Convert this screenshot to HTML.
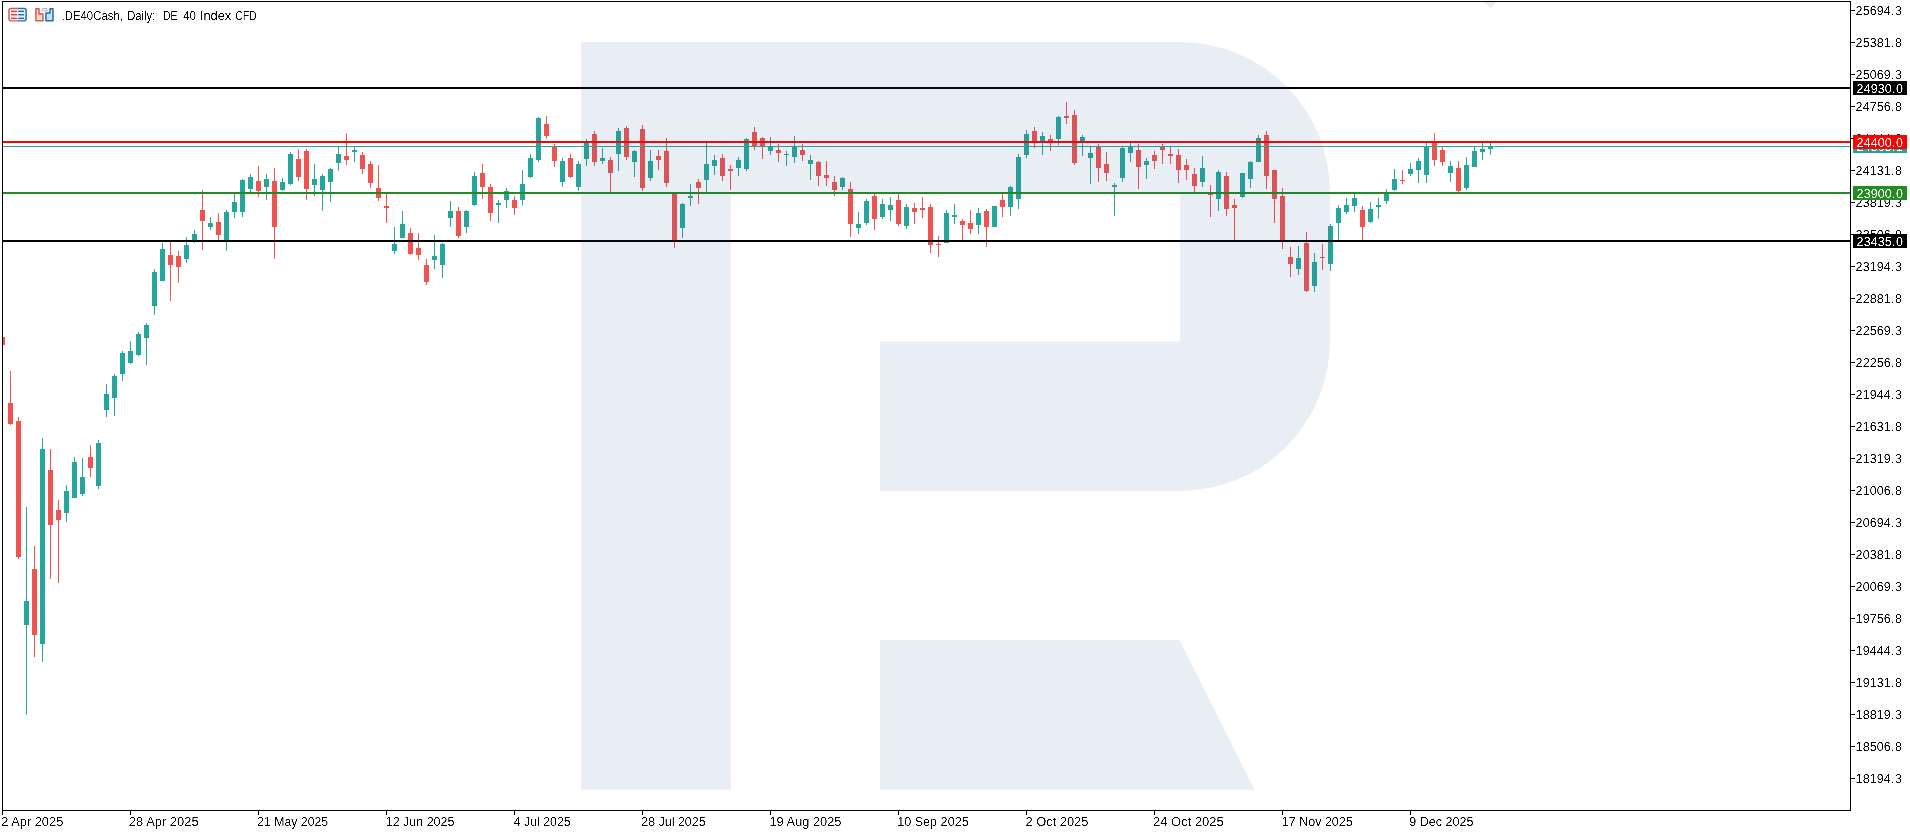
<!DOCTYPE html>
<html lang="en"><head><meta charset="utf-8"><title>.DE40Cash, Daily: DE 40 Index CFD</title>
<style>html,body{margin:0;padding:0;background:#fff;overflow:hidden}svg{display:block}text{filter:url(#px);font-family:"Liberation Sans",Arial,sans-serif;font-size:12.5px;fill:#000}.w{fill:#fff}</style>
</head><body>
<svg width="1910" height="834" viewBox="0 0 1910 834">
<rect x="0" y="0" width="1910" height="834" fill="#fff"/>
<defs><clipPath id="cc"><rect x="3" y="2" width="1847" height="808"/></clipPath><filter id="px" x="-10%" y="-30%" width="120%" height="160%" color-interpolation-filters="sRGB"><feComponentTransfer><feFuncA type="linear" slope="3" intercept="-1.1"/></feComponentTransfer></filter></defs>
<g shape-rendering="crispEdges" clip-path="url(#cc)">
<rect x="0" y="337" width="5" height="8" fill="#ef5350"/>
<rect x="10" y="371" width="1" height="54" fill="#ef5350"/>
<rect x="8" y="403" width="5" height="21" fill="#ef5350"/>
<rect x="18" y="417" width="1" height="142" fill="#ef5350"/>
<rect x="16" y="421" width="5" height="136" fill="#ef5350"/>
<rect x="26" y="507" width="1" height="208" fill="#26a69a"/>
<rect x="24" y="601" width="5" height="24" fill="#26a69a"/>
<rect x="34" y="546" width="1" height="111" fill="#ef5350"/>
<rect x="32" y="569" width="5" height="66" fill="#ef5350"/>
<rect x="42" y="438" width="1" height="224" fill="#26a69a"/>
<rect x="40" y="449" width="5" height="195" fill="#26a69a"/>
<rect x="50" y="449" width="1" height="130" fill="#ef5350"/>
<rect x="48" y="470" width="5" height="55" fill="#ef5350"/>
<rect x="58" y="500" width="1" height="83" fill="#ef5350"/>
<rect x="56" y="510" width="5" height="10" fill="#ef5350"/>
<rect x="66" y="485" width="1" height="37" fill="#26a69a"/>
<rect x="64" y="491" width="5" height="22" fill="#26a69a"/>
<rect x="74" y="457" width="1" height="41" fill="#26a69a"/>
<rect x="72" y="462" width="5" height="36" fill="#26a69a"/>
<rect x="82" y="458" width="1" height="38" fill="#26a69a"/>
<rect x="80" y="477" width="5" height="17" fill="#26a69a"/>
<rect x="90" y="445" width="1" height="32" fill="#ef5350"/>
<rect x="88" y="457" width="5" height="11" fill="#ef5350"/>
<rect x="98" y="440" width="1" height="49" fill="#26a69a"/>
<rect x="96" y="443" width="5" height="43" fill="#26a69a"/>
<rect x="106" y="384" width="1" height="33" fill="#26a69a"/>
<rect x="104" y="394" width="5" height="16" fill="#26a69a"/>
<rect x="114" y="374" width="1" height="42" fill="#26a69a"/>
<rect x="112" y="376" width="5" height="22" fill="#26a69a"/>
<rect x="122" y="351" width="1" height="30" fill="#26a69a"/>
<rect x="120" y="353" width="5" height="21" fill="#26a69a"/>
<rect x="130" y="341" width="1" height="23" fill="#26a69a"/>
<rect x="128" y="351" width="5" height="12" fill="#26a69a"/>
<rect x="138" y="332" width="1" height="24" fill="#26a69a"/>
<rect x="136" y="334" width="5" height="21" fill="#26a69a"/>
<rect x="146" y="323" width="1" height="42" fill="#26a69a"/>
<rect x="144" y="325" width="5" height="13" fill="#26a69a"/>
<rect x="154" y="269" width="1" height="46" fill="#26a69a"/>
<rect x="152" y="272" width="5" height="34" fill="#26a69a"/>
<rect x="162" y="243" width="1" height="38" fill="#26a69a"/>
<rect x="160" y="249" width="5" height="32" fill="#26a69a"/>
<rect x="170" y="240" width="1" height="61" fill="#ef5350"/>
<rect x="168" y="255" width="5" height="10" fill="#ef5350"/>
<rect x="178" y="251" width="1" height="32" fill="#ef5350"/>
<rect x="176" y="256" width="5" height="11" fill="#ef5350"/>
<rect x="186" y="237" width="1" height="26" fill="#26a69a"/>
<rect x="184" y="245" width="5" height="14" fill="#26a69a"/>
<rect x="194" y="230" width="1" height="13" fill="#26a69a"/>
<rect x="192" y="234" width="5" height="6" fill="#26a69a"/>
<rect x="202" y="190" width="1" height="60" fill="#ef5350"/>
<rect x="200" y="210" width="5" height="11" fill="#ef5350"/>
<rect x="210" y="217" width="1" height="13" fill="#26a69a"/>
<rect x="208" y="223" width="5" height="4" fill="#26a69a"/>
<rect x="218" y="213" width="1" height="27" fill="#ef5350"/>
<rect x="216" y="222" width="5" height="13" fill="#ef5350"/>
<rect x="226" y="210" width="1" height="41" fill="#26a69a"/>
<rect x="224" y="212" width="5" height="28" fill="#26a69a"/>
<rect x="234" y="192" width="1" height="26" fill="#26a69a"/>
<rect x="232" y="202" width="5" height="10" fill="#26a69a"/>
<rect x="242" y="179" width="1" height="38" fill="#26a69a"/>
<rect x="240" y="180" width="5" height="32" fill="#26a69a"/>
<rect x="250" y="174" width="1" height="18" fill="#26a69a"/>
<rect x="248" y="177" width="5" height="12" fill="#26a69a"/>
<rect x="258" y="166" width="1" height="31" fill="#ef5350"/>
<rect x="256" y="181" width="5" height="10" fill="#ef5350"/>
<rect x="266" y="174" width="1" height="26" fill="#26a69a"/>
<rect x="264" y="179" width="5" height="8" fill="#26a69a"/>
<rect x="274" y="168" width="1" height="91" fill="#ef5350"/>
<rect x="272" y="181" width="5" height="46" fill="#ef5350"/>
<rect x="282" y="178" width="1" height="13" fill="#26a69a"/>
<rect x="280" y="182" width="5" height="8" fill="#26a69a"/>
<rect x="290" y="152" width="1" height="33" fill="#26a69a"/>
<rect x="288" y="154" width="5" height="30" fill="#26a69a"/>
<rect x="298" y="149" width="1" height="32" fill="#ef5350"/>
<rect x="296" y="159" width="5" height="18" fill="#ef5350"/>
<rect x="306" y="149" width="1" height="51" fill="#ef5350"/>
<rect x="304" y="151" width="5" height="38" fill="#ef5350"/>
<rect x="314" y="164" width="1" height="32" fill="#26a69a"/>
<rect x="312" y="179" width="5" height="6" fill="#26a69a"/>
<rect x="322" y="174" width="1" height="37" fill="#26a69a"/>
<rect x="320" y="176" width="5" height="14" fill="#26a69a"/>
<rect x="330" y="168" width="1" height="34" fill="#26a69a"/>
<rect x="328" y="169" width="5" height="13" fill="#26a69a"/>
<rect x="338" y="146" width="1" height="25" fill="#26a69a"/>
<rect x="336" y="154" width="5" height="9" fill="#26a69a"/>
<rect x="346" y="133" width="1" height="32" fill="#ef5350"/>
<rect x="344" y="156" width="5" height="4" fill="#ef5350"/>
<rect x="354" y="146" width="1" height="16" fill="#26a69a"/>
<rect x="352" y="150" width="5" height="2" fill="#26a69a"/>
<rect x="362" y="152" width="1" height="22" fill="#ef5350"/>
<rect x="360" y="155" width="5" height="14" fill="#ef5350"/>
<rect x="370" y="161" width="1" height="27" fill="#ef5350"/>
<rect x="368" y="164" width="5" height="19" fill="#ef5350"/>
<rect x="378" y="165" width="1" height="36" fill="#ef5350"/>
<rect x="376" y="188" width="5" height="10" fill="#ef5350"/>
<rect x="386" y="193" width="1" height="30" fill="#ef5350"/>
<rect x="384" y="206" width="5" height="2" fill="#ef5350"/>
<rect x="394" y="227" width="1" height="27" fill="#26a69a"/>
<rect x="392" y="244" width="5" height="7" fill="#26a69a"/>
<rect x="402" y="211" width="1" height="27" fill="#26a69a"/>
<rect x="400" y="224" width="5" height="14" fill="#26a69a"/>
<rect x="410" y="228" width="1" height="27" fill="#ef5350"/>
<rect x="408" y="233" width="5" height="21" fill="#ef5350"/>
<rect x="418" y="233" width="1" height="27" fill="#ef5350"/>
<rect x="416" y="248" width="5" height="7" fill="#ef5350"/>
<rect x="426" y="259" width="1" height="26" fill="#ef5350"/>
<rect x="424" y="265" width="5" height="17" fill="#ef5350"/>
<rect x="434" y="235" width="1" height="34" fill="#26a69a"/>
<rect x="432" y="256" width="5" height="4" fill="#26a69a"/>
<rect x="442" y="243" width="1" height="35" fill="#26a69a"/>
<rect x="440" y="244" width="5" height="21" fill="#26a69a"/>
<rect x="450" y="201" width="1" height="26" fill="#26a69a"/>
<rect x="448" y="211" width="5" height="7" fill="#26a69a"/>
<rect x="458" y="207" width="1" height="31" fill="#ef5350"/>
<rect x="456" y="211" width="5" height="25" fill="#ef5350"/>
<rect x="466" y="210" width="1" height="23" fill="#26a69a"/>
<rect x="464" y="211" width="5" height="16" fill="#26a69a"/>
<rect x="474" y="172" width="1" height="34" fill="#26a69a"/>
<rect x="472" y="176" width="5" height="29" fill="#26a69a"/>
<rect x="482" y="164" width="1" height="35" fill="#ef5350"/>
<rect x="480" y="173" width="5" height="14" fill="#ef5350"/>
<rect x="490" y="184" width="1" height="37" fill="#ef5350"/>
<rect x="488" y="187" width="5" height="26" fill="#ef5350"/>
<rect x="498" y="200" width="1" height="23" fill="#26a69a"/>
<rect x="496" y="203" width="5" height="2" fill="#26a69a"/>
<rect x="506" y="188" width="1" height="20" fill="#26a69a"/>
<rect x="504" y="191" width="5" height="9" fill="#26a69a"/>
<rect x="514" y="196" width="1" height="19" fill="#ef5350"/>
<rect x="512" y="200" width="5" height="8" fill="#ef5350"/>
<rect x="522" y="170" width="1" height="35" fill="#26a69a"/>
<rect x="520" y="184" width="5" height="16" fill="#26a69a"/>
<rect x="530" y="154" width="1" height="24" fill="#26a69a"/>
<rect x="528" y="158" width="5" height="19" fill="#26a69a"/>
<rect x="538" y="117" width="1" height="45" fill="#26a69a"/>
<rect x="536" y="118" width="5" height="42" fill="#26a69a"/>
<rect x="546" y="116" width="1" height="23" fill="#ef5350"/>
<rect x="544" y="124" width="5" height="12" fill="#ef5350"/>
<rect x="554" y="144" width="1" height="23" fill="#ef5350"/>
<rect x="552" y="146" width="5" height="15" fill="#ef5350"/>
<rect x="562" y="158" width="1" height="29" fill="#26a69a"/>
<rect x="560" y="161" width="5" height="21" fill="#26a69a"/>
<rect x="570" y="154" width="1" height="24" fill="#ef5350"/>
<rect x="568" y="158" width="5" height="19" fill="#ef5350"/>
<rect x="578" y="161" width="1" height="30" fill="#26a69a"/>
<rect x="576" y="164" width="5" height="23" fill="#26a69a"/>
<rect x="586" y="139" width="1" height="27" fill="#26a69a"/>
<rect x="584" y="142" width="5" height="17" fill="#26a69a"/>
<rect x="594" y="131" width="1" height="35" fill="#ef5350"/>
<rect x="592" y="134" width="5" height="28" fill="#ef5350"/>
<rect x="602" y="148" width="1" height="16" fill="#26a69a"/>
<rect x="600" y="158" width="5" height="3" fill="#26a69a"/>
<rect x="610" y="157" width="1" height="35" fill="#ef5350"/>
<rect x="608" y="160" width="5" height="13" fill="#ef5350"/>
<rect x="618" y="128" width="1" height="43" fill="#26a69a"/>
<rect x="616" y="131" width="5" height="23" fill="#26a69a"/>
<rect x="626" y="126" width="1" height="34" fill="#ef5350"/>
<rect x="624" y="128" width="5" height="29" fill="#ef5350"/>
<rect x="634" y="150" width="1" height="27" fill="#26a69a"/>
<rect x="632" y="151" width="5" height="11" fill="#26a69a"/>
<rect x="642" y="125" width="1" height="66" fill="#ef5350"/>
<rect x="640" y="129" width="5" height="59" fill="#ef5350"/>
<rect x="650" y="150" width="1" height="31" fill="#26a69a"/>
<rect x="648" y="161" width="5" height="17" fill="#26a69a"/>
<rect x="658" y="150" width="1" height="20" fill="#ef5350"/>
<rect x="656" y="156" width="5" height="4" fill="#ef5350"/>
<rect x="666" y="138" width="1" height="49" fill="#ef5350"/>
<rect x="664" y="151" width="5" height="32" fill="#ef5350"/>
<rect x="674" y="192" width="1" height="56" fill="#ef5350"/>
<rect x="672" y="192" width="5" height="49" fill="#ef5350"/>
<rect x="682" y="203" width="1" height="35" fill="#26a69a"/>
<rect x="680" y="204" width="5" height="24" fill="#26a69a"/>
<rect x="690" y="184" width="1" height="22" fill="#26a69a"/>
<rect x="688" y="196" width="5" height="2" fill="#26a69a"/>
<rect x="698" y="179" width="1" height="25" fill="#ef5350"/>
<rect x="696" y="182" width="5" height="6" fill="#ef5350"/>
<rect x="706" y="142" width="1" height="50" fill="#26a69a"/>
<rect x="704" y="164" width="5" height="16" fill="#26a69a"/>
<rect x="714" y="155" width="1" height="20" fill="#26a69a"/>
<rect x="712" y="160" width="5" height="6" fill="#26a69a"/>
<rect x="722" y="154" width="1" height="27" fill="#ef5350"/>
<rect x="720" y="158" width="5" height="18" fill="#ef5350"/>
<rect x="730" y="165" width="1" height="25" fill="#ef5350"/>
<rect x="728" y="169" width="5" height="2" fill="#ef5350"/>
<rect x="738" y="157" width="1" height="19" fill="#26a69a"/>
<rect x="736" y="160" width="5" height="8" fill="#26a69a"/>
<rect x="746" y="138" width="1" height="33" fill="#26a69a"/>
<rect x="744" y="139" width="5" height="30" fill="#26a69a"/>
<rect x="754" y="127" width="1" height="23" fill="#ef5350"/>
<rect x="752" y="132" width="5" height="14" fill="#ef5350"/>
<rect x="762" y="137" width="1" height="22" fill="#ef5350"/>
<rect x="760" y="138" width="5" height="8" fill="#ef5350"/>
<rect x="770" y="137" width="1" height="18" fill="#26a69a"/>
<rect x="768" y="147" width="5" height="4" fill="#26a69a"/>
<rect x="778" y="144" width="1" height="18" fill="#ef5350"/>
<rect x="776" y="150" width="5" height="3" fill="#ef5350"/>
<rect x="786" y="151" width="1" height="15" fill="#26a69a"/>
<rect x="784" y="154" width="5" height="1" fill="#26a69a"/>
<rect x="794" y="136" width="1" height="27" fill="#26a69a"/>
<rect x="792" y="147" width="5" height="10" fill="#26a69a"/>
<rect x="802" y="144" width="1" height="17" fill="#ef5350"/>
<rect x="800" y="150" width="5" height="5" fill="#ef5350"/>
<rect x="810" y="155" width="1" height="25" fill="#26a69a"/>
<rect x="808" y="160" width="5" height="4" fill="#26a69a"/>
<rect x="818" y="161" width="1" height="25" fill="#ef5350"/>
<rect x="816" y="162" width="5" height="14" fill="#ef5350"/>
<rect x="826" y="161" width="1" height="25" fill="#ef5350"/>
<rect x="824" y="175" width="5" height="3" fill="#ef5350"/>
<rect x="834" y="176" width="1" height="20" fill="#ef5350"/>
<rect x="832" y="182" width="5" height="8" fill="#ef5350"/>
<rect x="842" y="177" width="1" height="13" fill="#26a69a"/>
<rect x="840" y="178" width="5" height="9" fill="#26a69a"/>
<rect x="850" y="182" width="1" height="55" fill="#ef5350"/>
<rect x="848" y="189" width="5" height="35" fill="#ef5350"/>
<rect x="858" y="212" width="1" height="22" fill="#26a69a"/>
<rect x="856" y="224" width="5" height="4" fill="#26a69a"/>
<rect x="866" y="199" width="1" height="26" fill="#26a69a"/>
<rect x="864" y="201" width="5" height="22" fill="#26a69a"/>
<rect x="874" y="194" width="1" height="36" fill="#ef5350"/>
<rect x="872" y="196" width="5" height="23" fill="#ef5350"/>
<rect x="882" y="199" width="1" height="20" fill="#26a69a"/>
<rect x="880" y="204" width="5" height="13" fill="#26a69a"/>
<rect x="890" y="197" width="1" height="24" fill="#26a69a"/>
<rect x="888" y="205" width="5" height="5" fill="#26a69a"/>
<rect x="898" y="194" width="1" height="32" fill="#ef5350"/>
<rect x="896" y="200" width="5" height="24" fill="#ef5350"/>
<rect x="906" y="204" width="1" height="25" fill="#26a69a"/>
<rect x="904" y="207" width="5" height="19" fill="#26a69a"/>
<rect x="914" y="203" width="1" height="21" fill="#ef5350"/>
<rect x="912" y="208" width="5" height="4" fill="#ef5350"/>
<rect x="922" y="197" width="1" height="21" fill="#ef5350"/>
<rect x="920" y="208" width="5" height="2" fill="#ef5350"/>
<rect x="930" y="204" width="1" height="49" fill="#ef5350"/>
<rect x="928" y="207" width="5" height="38" fill="#ef5350"/>
<rect x="938" y="236" width="1" height="21" fill="#ef5350"/>
<rect x="936" y="244" width="5" height="1" fill="#ef5350"/>
<rect x="946" y="210" width="1" height="33" fill="#26a69a"/>
<rect x="944" y="213" width="5" height="30" fill="#26a69a"/>
<rect x="954" y="204" width="1" height="20" fill="#26a69a"/>
<rect x="952" y="215" width="5" height="2" fill="#26a69a"/>
<rect x="962" y="219" width="1" height="21" fill="#ef5350"/>
<rect x="960" y="221" width="5" height="4" fill="#ef5350"/>
<rect x="970" y="210" width="1" height="24" fill="#ef5350"/>
<rect x="968" y="223" width="5" height="6" fill="#ef5350"/>
<rect x="978" y="208" width="1" height="26" fill="#26a69a"/>
<rect x="976" y="213" width="5" height="12" fill="#26a69a"/>
<rect x="986" y="209" width="1" height="38" fill="#ef5350"/>
<rect x="984" y="211" width="5" height="16" fill="#ef5350"/>
<rect x="994" y="206" width="1" height="21" fill="#26a69a"/>
<rect x="992" y="206" width="5" height="21" fill="#26a69a"/>
<rect x="1002" y="194" width="1" height="23" fill="#ef5350"/>
<rect x="1000" y="200" width="5" height="7" fill="#ef5350"/>
<rect x="1010" y="186" width="1" height="30" fill="#26a69a"/>
<rect x="1008" y="187" width="5" height="20" fill="#26a69a"/>
<rect x="1018" y="154" width="1" height="55" fill="#26a69a"/>
<rect x="1016" y="157" width="5" height="42" fill="#26a69a"/>
<rect x="1026" y="130" width="1" height="28" fill="#26a69a"/>
<rect x="1024" y="134" width="5" height="21" fill="#26a69a"/>
<rect x="1034" y="127" width="1" height="21" fill="#ef5350"/>
<rect x="1032" y="131" width="5" height="11" fill="#ef5350"/>
<rect x="1042" y="132" width="1" height="23" fill="#26a69a"/>
<rect x="1040" y="136" width="5" height="6" fill="#26a69a"/>
<rect x="1050" y="135" width="1" height="16" fill="#ef5350"/>
<rect x="1048" y="139" width="5" height="4" fill="#ef5350"/>
<rect x="1058" y="116" width="1" height="29" fill="#26a69a"/>
<rect x="1056" y="117" width="5" height="22" fill="#26a69a"/>
<rect x="1066" y="102" width="1" height="22" fill="#ef5350"/>
<rect x="1064" y="116" width="5" height="2" fill="#ef5350"/>
<rect x="1074" y="110" width="1" height="55" fill="#ef5350"/>
<rect x="1072" y="115" width="5" height="48" fill="#ef5350"/>
<rect x="1082" y="135" width="1" height="21" fill="#26a69a"/>
<rect x="1080" y="137" width="5" height="5" fill="#26a69a"/>
<rect x="1090" y="146" width="1" height="38" fill="#26a69a"/>
<rect x="1088" y="153" width="5" height="5" fill="#26a69a"/>
<rect x="1098" y="144" width="1" height="38" fill="#ef5350"/>
<rect x="1096" y="146" width="5" height="22" fill="#ef5350"/>
<rect x="1106" y="152" width="1" height="29" fill="#ef5350"/>
<rect x="1104" y="164" width="5" height="9" fill="#ef5350"/>
<rect x="1114" y="183" width="1" height="33" fill="#26a69a"/>
<rect x="1112" y="185" width="5" height="2" fill="#26a69a"/>
<rect x="1122" y="147" width="1" height="35" fill="#26a69a"/>
<rect x="1120" y="148" width="5" height="30" fill="#26a69a"/>
<rect x="1130" y="142" width="1" height="20" fill="#26a69a"/>
<rect x="1128" y="147" width="5" height="6" fill="#26a69a"/>
<rect x="1138" y="144" width="1" height="45" fill="#ef5350"/>
<rect x="1136" y="150" width="5" height="17" fill="#ef5350"/>
<rect x="1146" y="158" width="1" height="21" fill="#26a69a"/>
<rect x="1144" y="161" width="5" height="4" fill="#26a69a"/>
<rect x="1154" y="151" width="1" height="18" fill="#ef5350"/>
<rect x="1152" y="155" width="5" height="6" fill="#ef5350"/>
<rect x="1162" y="144" width="1" height="20" fill="#ef5350"/>
<rect x="1160" y="147" width="5" height="3" fill="#ef5350"/>
<rect x="1170" y="146" width="1" height="18" fill="#ef5350"/>
<rect x="1168" y="154" width="5" height="2" fill="#ef5350"/>
<rect x="1178" y="149" width="1" height="34" fill="#ef5350"/>
<rect x="1176" y="155" width="5" height="15" fill="#ef5350"/>
<rect x="1186" y="159" width="1" height="21" fill="#ef5350"/>
<rect x="1184" y="165" width="5" height="5" fill="#ef5350"/>
<rect x="1194" y="168" width="1" height="24" fill="#ef5350"/>
<rect x="1192" y="174" width="5" height="12" fill="#ef5350"/>
<rect x="1202" y="156" width="1" height="31" fill="#26a69a"/>
<rect x="1200" y="168" width="5" height="14" fill="#26a69a"/>
<rect x="1210" y="185" width="1" height="32" fill="#ef5350"/>
<rect x="1208" y="193" width="5" height="2" fill="#ef5350"/>
<rect x="1218" y="170" width="1" height="41" fill="#26a69a"/>
<rect x="1216" y="172" width="5" height="27" fill="#26a69a"/>
<rect x="1226" y="172" width="1" height="44" fill="#ef5350"/>
<rect x="1224" y="176" width="5" height="33" fill="#ef5350"/>
<rect x="1234" y="199" width="1" height="41" fill="#ef5350"/>
<rect x="1232" y="205" width="5" height="3" fill="#ef5350"/>
<rect x="1242" y="173" width="1" height="25" fill="#26a69a"/>
<rect x="1240" y="173" width="5" height="24" fill="#26a69a"/>
<rect x="1250" y="161" width="1" height="27" fill="#26a69a"/>
<rect x="1248" y="162" width="5" height="17" fill="#26a69a"/>
<rect x="1258" y="135" width="1" height="27" fill="#26a69a"/>
<rect x="1256" y="138" width="5" height="24" fill="#26a69a"/>
<rect x="1266" y="131" width="1" height="58" fill="#ef5350"/>
<rect x="1264" y="135" width="5" height="41" fill="#ef5350"/>
<rect x="1274" y="170" width="1" height="53" fill="#ef5350"/>
<rect x="1272" y="170" width="5" height="29" fill="#ef5350"/>
<rect x="1282" y="188" width="1" height="61" fill="#ef5350"/>
<rect x="1280" y="196" width="5" height="46" fill="#ef5350"/>
<rect x="1290" y="247" width="1" height="30" fill="#ef5350"/>
<rect x="1288" y="257" width="5" height="7" fill="#ef5350"/>
<rect x="1298" y="246" width="1" height="29" fill="#26a69a"/>
<rect x="1296" y="258" width="5" height="11" fill="#26a69a"/>
<rect x="1306" y="232" width="1" height="60" fill="#ef5350"/>
<rect x="1304" y="243" width="5" height="48" fill="#ef5350"/>
<rect x="1314" y="253" width="1" height="39" fill="#26a69a"/>
<rect x="1312" y="262" width="5" height="24" fill="#26a69a"/>
<rect x="1322" y="244" width="1" height="26" fill="#ef5350"/>
<rect x="1320" y="257" width="5" height="1" fill="#ef5350"/>
<rect x="1330" y="224" width="1" height="47" fill="#26a69a"/>
<rect x="1328" y="226" width="5" height="38" fill="#26a69a"/>
<rect x="1338" y="205" width="1" height="35" fill="#26a69a"/>
<rect x="1336" y="208" width="5" height="15" fill="#26a69a"/>
<rect x="1346" y="198" width="1" height="16" fill="#26a69a"/>
<rect x="1344" y="205" width="5" height="7" fill="#26a69a"/>
<rect x="1354" y="194" width="1" height="18" fill="#26a69a"/>
<rect x="1352" y="198" width="5" height="8" fill="#26a69a"/>
<rect x="1362" y="206" width="1" height="34" fill="#ef5350"/>
<rect x="1360" y="210" width="5" height="17" fill="#ef5350"/>
<rect x="1370" y="202" width="1" height="21" fill="#26a69a"/>
<rect x="1368" y="209" width="5" height="13" fill="#26a69a"/>
<rect x="1378" y="198" width="1" height="21" fill="#26a69a"/>
<rect x="1376" y="205" width="5" height="2" fill="#26a69a"/>
<rect x="1386" y="189" width="1" height="15" fill="#26a69a"/>
<rect x="1384" y="193" width="5" height="8" fill="#26a69a"/>
<rect x="1394" y="169" width="1" height="22" fill="#26a69a"/>
<rect x="1392" y="179" width="5" height="11" fill="#26a69a"/>
<rect x="1402" y="170" width="1" height="14" fill="#ef5350"/>
<rect x="1400" y="180" width="5" height="1" fill="#ef5350"/>
<rect x="1410" y="163" width="1" height="13" fill="#26a69a"/>
<rect x="1408" y="169" width="5" height="5" fill="#26a69a"/>
<rect x="1418" y="158" width="1" height="25" fill="#26a69a"/>
<rect x="1416" y="161" width="5" height="9" fill="#26a69a"/>
<rect x="1426" y="143" width="1" height="40" fill="#26a69a"/>
<rect x="1424" y="146" width="5" height="29" fill="#26a69a"/>
<rect x="1434" y="133" width="1" height="33" fill="#ef5350"/>
<rect x="1432" y="143" width="5" height="17" fill="#ef5350"/>
<rect x="1442" y="147" width="1" height="19" fill="#ef5350"/>
<rect x="1440" y="150" width="5" height="12" fill="#ef5350"/>
<rect x="1450" y="161" width="1" height="21" fill="#26a69a"/>
<rect x="1448" y="166" width="5" height="7" fill="#26a69a"/>
<rect x="1458" y="161" width="1" height="31" fill="#ef5350"/>
<rect x="1456" y="168" width="5" height="23" fill="#ef5350"/>
<rect x="1466" y="157" width="1" height="33" fill="#26a69a"/>
<rect x="1464" y="165" width="5" height="23" fill="#26a69a"/>
<rect x="1474" y="146" width="1" height="21" fill="#26a69a"/>
<rect x="1472" y="151" width="5" height="16" fill="#26a69a"/>
<rect x="1482" y="143" width="1" height="17" fill="#26a69a"/>
<rect x="1480" y="149" width="5" height="3" fill="#26a69a"/>
<rect x="1490" y="143" width="1" height="12" fill="#26a69a"/>
<rect x="1488" y="147" width="5" height="2" fill="#26a69a"/>
</g>
<polygon points="1484,2 1496,2 1490,8" fill="#efebf1" shape-rendering="crispEdges"/>
<g shape-rendering="crispEdges">
<rect x="3" y="146" width="1847" height="1" fill="#26a69a"/>
<rect x="3" y="87" width="1848" height="2" fill="#000"/>
<rect x="3" y="240" width="1848" height="2" fill="#000"/>
<rect x="3" y="192" width="1848" height="2" fill="#228b22"/>
<rect x="3" y="141" width="1848" height="2" fill="#ff0000"/>
</g>
<path fill="rgba(35,85,155,0.10)" fill-rule="evenodd" d="M581.2,42 H1180 A150,150 0 0 1 1330,192 V341 A150,150 0 0 1 1180,491 H880 V341.4 H1180 V192 H730.8 V789.8 H581.2 Z M880,640 H1179.5 L1254.5,789.8 H880 Z"/>
<g shape-rendering="crispEdges" fill="#000">
<rect x="2" y="1" width="1849" height="1"/>
<rect x="2" y="810" width="1849" height="1"/>
<rect x="2" y="1" width="1" height="814"/>
<rect x="1850" y="1" width="1" height="810"/>
<rect x="1851" y="10" width="4" height="1"/>
<rect x="1851" y="42" width="4" height="1"/>
<rect x="1851" y="74" width="4" height="1"/>
<rect x="1851" y="106" width="4" height="1"/>
<rect x="1851" y="138" width="4" height="1"/>
<rect x="1851" y="170" width="4" height="1"/>
<rect x="1851" y="202" width="4" height="1"/>
<rect x="1851" y="234" width="4" height="1"/>
<rect x="1851" y="266" width="4" height="1"/>
<rect x="1851" y="298" width="4" height="1"/>
<rect x="1851" y="330" width="4" height="1"/>
<rect x="1851" y="362" width="4" height="1"/>
<rect x="1851" y="394" width="4" height="1"/>
<rect x="1851" y="426" width="4" height="1"/>
<rect x="1851" y="458" width="4" height="1"/>
<rect x="1851" y="490" width="4" height="1"/>
<rect x="1851" y="522" width="4" height="1"/>
<rect x="1851" y="554" width="4" height="1"/>
<rect x="1851" y="586" width="4" height="1"/>
<rect x="1851" y="618" width="4" height="1"/>
<rect x="1851" y="650" width="4" height="1"/>
<rect x="1851" y="682" width="4" height="1"/>
<rect x="1851" y="714" width="4" height="1"/>
<rect x="1851" y="746" width="4" height="1"/>
<rect x="1851" y="778" width="4" height="1"/>
<rect x="2" y="811" width="1" height="4"/>
<rect x="130" y="811" width="1" height="4"/>
<rect x="258" y="811" width="1" height="4"/>
<rect x="386" y="811" width="1" height="4"/>
<rect x="514" y="811" width="1" height="4"/>
<rect x="642" y="811" width="1" height="4"/>
<rect x="770" y="811" width="1" height="4"/>
<rect x="898" y="811" width="1" height="4"/>
<rect x="1026" y="811" width="1" height="4"/>
<rect x="1154" y="811" width="1" height="4"/>
<rect x="1282" y="811" width="1" height="4"/>
<rect x="1410" y="811" width="1" height="4"/>
</g>
<g>
<text x="1855.60 1862.65 1869.70 1876.75 1883.80 1890.90 1895.00" y="15">25694.3</text>
<text x="1855.60 1862.65 1869.70 1876.75 1883.80 1890.90 1895.00" y="47">25381.8</text>
<text x="1855.60 1862.65 1869.70 1876.75 1883.80 1890.90 1895.00" y="79">25069.3</text>
<text x="1855.60 1862.65 1869.70 1876.75 1883.80 1890.90 1895.00" y="111">24756.8</text>
<text x="1855.60 1862.65 1869.70 1876.75 1883.80 1890.90 1895.00" y="143">24444.3</text>
<text x="1855.60 1862.65 1869.70 1876.75 1883.80 1890.90 1895.00" y="175">24131.8</text>
<text x="1855.60 1862.65 1869.70 1876.75 1883.80 1890.90 1895.00" y="207">23819.3</text>
<text x="1855.60 1862.65 1869.70 1876.75 1883.80 1890.90 1895.00" y="239">23506.8</text>
<text x="1855.60 1862.65 1869.70 1876.75 1883.80 1890.90 1895.00" y="271">23194.3</text>
<text x="1855.60 1862.65 1869.70 1876.75 1883.80 1890.90 1895.00" y="303">22881.8</text>
<text x="1855.60 1862.65 1869.70 1876.75 1883.80 1890.90 1895.00" y="335">22569.3</text>
<text x="1855.60 1862.65 1869.70 1876.75 1883.80 1890.90 1895.00" y="367">22256.8</text>
<text x="1855.60 1862.65 1869.70 1876.75 1883.80 1890.90 1895.00" y="399">21944.3</text>
<text x="1855.60 1862.65 1869.70 1876.75 1883.80 1890.90 1895.00" y="431">21631.8</text>
<text x="1855.60 1862.65 1869.70 1876.75 1883.80 1890.90 1895.00" y="463">21319.3</text>
<text x="1855.60 1862.65 1869.70 1876.75 1883.80 1890.90 1895.00" y="495">21006.8</text>
<text x="1855.60 1862.65 1869.70 1876.75 1883.80 1890.90 1895.00" y="527">20694.3</text>
<text x="1855.60 1862.65 1869.70 1876.75 1883.80 1890.90 1895.00" y="559">20381.8</text>
<text x="1855.60 1862.65 1869.70 1876.75 1883.80 1890.90 1895.00" y="591">20069.3</text>
<text x="1855.60 1862.65 1869.70 1876.75 1883.80 1890.90 1895.00" y="623">19756.8</text>
<text x="1855.60 1862.65 1869.70 1876.75 1883.80 1890.90 1895.00" y="655">19444.3</text>
<text x="1855.60 1862.65 1869.70 1876.75 1883.80 1890.90 1895.00" y="687">19131.8</text>
<text x="1855.60 1862.65 1869.70 1876.75 1883.80 1890.90 1895.00" y="719">18819.3</text>
<text x="1855.60 1862.65 1869.70 1876.75 1883.80 1890.90 1895.00" y="751">18506.8</text>
<text x="1855.60 1862.65 1869.70 1876.75 1883.80 1890.90 1895.00" y="783">18194.3</text>
<text x="1.19" y="826" textLength="62.09" lengthAdjust="spacingAndGlyphs">2 Apr 2025</text>
<text x="128.88" y="826" textLength="69.71" lengthAdjust="spacingAndGlyphs">28 Apr 2025</text>
<text x="257.11" y="826" textLength="71.11" lengthAdjust="spacingAndGlyphs">21 May 2025</text>
<text x="385.70" y="826" textLength="68.76" lengthAdjust="spacingAndGlyphs">12 Jun 2025</text>
<text x="513.75" y="826" textLength="56.88" lengthAdjust="spacingAndGlyphs">4 Jul 2025</text>
<text x="641.30" y="826" textLength="64.34" lengthAdjust="spacingAndGlyphs">28 Jul 2025</text>
<text x="769.47" y="826" textLength="72.01" lengthAdjust="spacingAndGlyphs">19 Aug 2025</text>
<text x="897.19" y="826" textLength="71.47" lengthAdjust="spacingAndGlyphs">10 Sep 2025</text>
<text x="1025.49" y="826" textLength="62.89" lengthAdjust="spacingAndGlyphs">2 Oct 2025</text>
<text x="1153.08" y="826" textLength="70.65" lengthAdjust="spacingAndGlyphs">24 Oct 2025</text>
<text x="1281.80" y="826" textLength="70.94" lengthAdjust="spacingAndGlyphs">17 Nov 2025</text>
<text x="1409.20" y="826" textLength="64.24" lengthAdjust="spacingAndGlyphs">9 Dec 2025</text>
</g>
<rect x="1853" y="139" width="54" height="14" fill="#26a69a" shape-rendering="crispEdges"/>
<text class="w" x="1856.60 1863.65 1870.70 1877.75 1884.80 1891.90 1896.00" y="151">24365.1</text>
<rect x="1853" y="81" width="54" height="14" fill="#000" shape-rendering="crispEdges"/>
<text class="w" x="1856.60 1863.65 1870.70 1877.75 1884.80 1891.90 1896.00" y="93">24930.0</text>
<rect x="1853" y="186" width="54" height="14" fill="#228b22" shape-rendering="crispEdges"/>
<text class="w" x="1856.60 1863.65 1870.70 1877.75 1884.80 1891.90 1896.00" y="198">23900.0</text>
<rect x="1853" y="234" width="54" height="14" fill="#000" shape-rendering="crispEdges"/>
<text class="w" x="1856.60 1863.65 1870.70 1877.75 1884.80 1891.90 1896.00" y="246">23435.0</text>
<rect x="1853" y="135" width="54" height="14" fill="#ff0000" shape-rendering="crispEdges"/>
<text class="w" x="1856.60 1863.65 1870.70 1877.75 1884.80 1891.90 1896.00" y="147">24400.0</text>
<g shape-rendering="geometricPrecision">
<rect x="9.6" y="9.4" width="8" height="11" fill="#fff"/>
<g fill="none" stroke-width="1.5">
<path d="M17.6,8.5 H11 a2,2 0 0 0 -2,2 V18.8 a2,2 0 0 0 2,2 H17.6" stroke="#e0524f"/>
<path d="M17.6,8.5 H24.1 a2,2 0 0 1 2,2 V18.8 a2,2 0 0 1 -2,2 H17.6" stroke="#1f6fb5"/>
</g>
<rect x="11" y="11.3" width="6.6" height="2" fill="#fde3dc"/><rect x="17.6" y="11.3" width="6.6" height="2" fill="#d5ebfb"/>
<rect x="11" y="10.600000000000001" width="6.2" height="1.4" fill="#e0403c"/><rect x="18.2" y="10.600000000000001" width="6" height="1.4" fill="#1a6bb3"/>
<rect x="11" y="14.7" width="6.6" height="2" fill="#fde3dc"/><rect x="17.6" y="14.7" width="6.6" height="2" fill="#d5ebfb"/>
<rect x="11" y="14.0" width="6.2" height="1.4" fill="#e0403c"/><rect x="18.2" y="14.0" width="6" height="1.4" fill="#1a6bb3"/>
<rect x="11" y="18.3" width="6.6" height="2" fill="#fde3dc"/><rect x="17.6" y="18.3" width="6.6" height="2" fill="#d5ebfb"/>
<rect x="11" y="17.6" width="6.2" height="1.4" fill="#e0403c"/><rect x="18.2" y="17.6" width="6" height="1.4" fill="#1a6bb3"/>
<path d="M35.9,8.7 h3.1 v5.3 h4 v6.8 h-7.1 z" fill="#fde0d8" stroke="#e0524f" stroke-width="1.5" stroke-linejoin="round"/>
<path d="M53,8.7 h-3 v4.2 h-4.1 v7.9 h7.1 z" fill="#c6e4fa" stroke="#1f6fb5" stroke-width="1.5" stroke-linejoin="round"/>
<rect x="42.2" y="8.4" width="5.1" height="2.4" rx="1.2" fill="#fff" stroke="#a9a9a9" stroke-width="1"/>
</g>
<text x="61.56" y="20" textLength="61.39" lengthAdjust="spacingAndGlyphs">.DE40Cash,</text>
<text x="127.20" y="20" textLength="28.22" lengthAdjust="spacingAndGlyphs">Daily:</text>
<text x="162.96" y="20" textLength="14.56" lengthAdjust="spacingAndGlyphs">DE</text>
<text x="183.17" y="20" textLength="12.91" lengthAdjust="spacingAndGlyphs">40</text>
<text x="199.92" y="20" textLength="31.33" lengthAdjust="spacingAndGlyphs">Index</text>
<text x="235.27" y="20" textLength="21.52" lengthAdjust="spacingAndGlyphs">CFD</text>
</svg></body></html>
